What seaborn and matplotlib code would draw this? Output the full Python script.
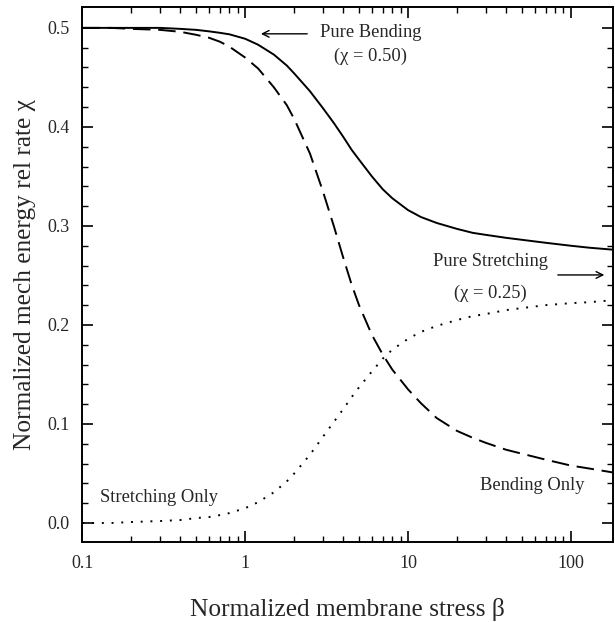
import numpy as np
import pandas as pd
import matplotlib
matplotlib.use("Agg")
import matplotlib.pyplot as plt
import seaborn as sns
from matplotlib.ticker import FixedLocator, NullFormatter, LogLocator

beta = [0.1, 0.15, 0.2, 0.3, 0.4, 0.5, 0.6, 0.7, 0.8, 1.0, 1.2, 1.5, 1.8, 2.0, 2.5, 3.0, 3.5,
        4.0, 4.5, 5.0, 6.0, 7.0, 8.0, 10, 12, 15, 20, 25, 30, 40, 50, 70, 100, 130, 182]
total = [0.500, 0.500, 0.500, 0.500, 0.499, 0.498, 0.4965, 0.495, 0.4935, 0.489, 0.483, 0.473,
         0.462, 0.454, 0.436, 0.419, 0.404, 0.390, 0.377, 0.367, 0.350, 0.337, 0.328, 0.316,
         0.309, 0.303, 0.297, 0.293, 0.291, 0.288, 0.286, 0.283, 0.280, 0.278, 0.276]
bending = [0.500, 0.500, 0.499, 0.498, 0.496, 0.493, 0.490, 0.486, 0.481, 0.470, 0.459, 0.440,
           0.422, 0.408, 0.373, 0.335, 0.300, 0.268, 0.241, 0.220, 0.190, 0.170, 0.155, 0.135,
           0.121, 0.106, 0.093, 0.086, 0.081, 0.074, 0.070, 0.064, 0.058, 0.055, 0.051]
stretching = [0.000, 0.000, 0.001, 0.002, 0.003, 0.005, 0.006, 0.008, 0.010, 0.015, 0.021, 0.031,
              0.042, 0.050, 0.069, 0.087, 0.102, 0.115, 0.127, 0.137, 0.153, 0.166, 0.175, 0.186,
              0.193, 0.199, 0.205, 0.209, 0.211, 0.215, 0.217, 0.220, 0.222, 0.223, 0.225]

x_ticks = [0.1, 1, 10, 100]
x_ticklabels = ["0.1", "1", "10", "100"]
y_ticks = [0.0, 0.1, 0.2, 0.3, 0.4, 0.5]

df = pd.DataFrame({"beta": beta, "total": total, "bending": bending, "stretching": stretching})

sns.set_theme(style="ticks")
plt.rcParams["font.family"] = ["Liberation Serif", "DejaVu Serif"]

fig = plt.figure(figsize=(6.15, 6.22), dpi=100)
ax = fig.add_axes([0.134, 0.1286, 0.863, 0.860])

sns.lineplot(data=df, x="beta", y="total", ax=ax, color="black", lw=1.4)
sns.lineplot(data=df, x="beta", y="bending", ax=ax, color="black", lw=1.4,
             linestyle=(0, (9, 4)))
sns.lineplot(data=df, x="beta", y="stretching", ax=ax, color="black", lw=1.4,
             linestyle=(0, (1, 4)))

ax.set_xscale("log")
ax.set_xlim(0.1, 182)
ax.set_ylim(-0.0192, 0.521)

ax.xaxis.set_major_locator(FixedLocator(x_ticks))
ax.set_xticklabels(x_ticklabels)
ax.xaxis.set_minor_locator(LogLocator(base=10, subs=np.arange(2, 10)))
ax.xaxis.set_minor_formatter(NullFormatter())
ax.set_yticks(y_ticks)
ax.set_yticklabels([f"{v:.1f}" for v in y_ticks])
ax.yaxis.set_minor_locator(FixedLocator(np.arange(0.0, 0.52, 0.02)))

ax.tick_params(which="both", direction="in", top=True, right=True, labelsize=13, color="black")
ax.tick_params(which="major", length=8, width=1.2, pad=9)
ax.tick_params(which="minor", length=4, width=1.0)
for s in ax.spines.values():
    s.set_linewidth(1.4)
    s.set_color("black")

ax.set_xlabel("Normalized membrane stress β", fontsize=18.3, labelpad=19)
ax.set_ylabel("Normalized mech energy rel rate χ", fontsize=18.3, labelpad=8)

ax.annotate("", xy=(1.2, 0.494), xytext=(2.5, 0.494),
            arrowprops=dict(arrowstyle="->", color="black", lw=1.0))
ax.text(2.89, 0.495, "Pure Bending", fontsize=13.3, va="center", ha="left")
ax.text(5.85, 0.471, "(χ = 0.50)", fontsize=13.3, va="center", ha="center")

ax.annotate("", xy=(167, 0.2505), xytext=(80, 0.2505),
            arrowprops=dict(arrowstyle="->", color="black", lw=1.0))
ax.text(72.6, 0.264, "Pure Stretching", fontsize=13.3, va="center", ha="right")
ax.text(32, 0.232, "(χ = 0.25)", fontsize=13.3, va="center", ha="center")

ax.text(0.128, 0.0253, "Stretching Only", fontsize=13.3, va="center", ha="left")
ax.text(27.7, 0.0374, "Bending Only", fontsize=13.3, va="center", ha="left")

fig.savefig("out.png", dpi=100)
